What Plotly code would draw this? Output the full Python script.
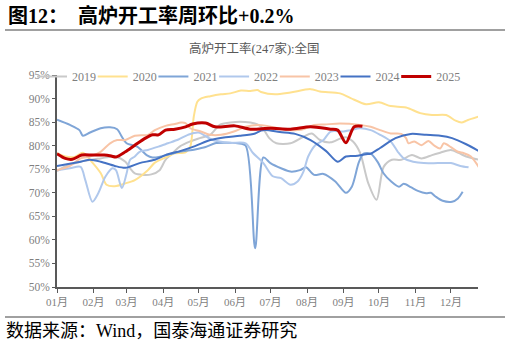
import datetime as dt
import plotly.graph_objects as go

# ---------------- data (day-of-year offset, value %) ----------------
years = ["2019", "2020", "2021", "2022", "2023", "2024", "2025"]

d2019 = [0, 6, 20, 37, 49, 58, 62, 66, 73, 80, 87, 92, 98, 104, 113, 121, 130, 138, 147, 155, 164, 170, 175, 180, 186, 198, 209, 216, 223, 232, 240, 245, 251, 257, 264, 271, 277, 284, 292, 301, 309, 318, 325, 334, 341, 347, 358]
v2019 = [74.6, 75.5, 76.6, 77.3, 77.7, 76.6, 75.2, 74.1, 73.8, 73.9, 74.8, 77.0, 78.4, 79.8, 80.9, 81.6, 82.3, 84.4, 84.9, 85.1, 84.9, 84.5, 83.5, 81.6, 80.5, 80.5, 81.9, 82.6, 81.2, 80.7, 81.5, 81.8, 80.9, 78.5, 72.0, 68.5, 75.5, 77.0, 77.0, 78.0, 77.3, 78.0, 78.5, 79.1, 78.4, 77.7, 77.0]

d2020 = [0, 7, 15, 22, 28, 37, 42, 49, 58, 66, 77, 83, 92, 100, 109, 113, 116, 119, 122, 130, 139, 147, 156, 164, 170, 173, 185, 198, 215, 223, 240, 249, 262, 273, 283, 296, 308, 318, 330, 338, 343, 348, 358]
v2020 = [78.4, 77.7, 77.6, 78.5, 77.0, 74.2, 71.7, 71.4, 72.0, 72.7, 74.8, 76.4, 77.5, 78.4, 78.6, 79.8, 86.2, 89.3, 90.0, 90.5, 90.9, 91.1, 91.7, 91.6, 91.8, 91.4, 90.9, 91.3, 92.0, 91.5, 91.1, 90.1, 88.8, 89.2, 88.4, 88.1, 86.9, 86.5, 86.5, 85.3, 84.9, 85.4, 86.2]

d2021 = [0, 11, 19, 22, 28, 37, 45, 51, 55, 59, 68, 76, 81, 88, 96, 104, 117, 126, 134, 143, 153, 160, 168, 175, 181, 190, 198, 206, 211, 218, 226, 236, 245, 250, 256, 260, 266, 272, 277, 283, 290, 294, 300, 306, 313, 317, 321, 327, 335, 340, 344]
v2021 = [85.5, 84.4, 83.3, 82.1, 82.8, 83.7, 83.9, 83.5, 81.9, 80.5, 79.8, 78.0, 77.5, 77.7, 78.2, 78.7, 79.2, 79.7, 80.5, 80.6, 80.5, 80.0, 58.2, 77.5, 76.3, 75.2, 74.5, 74.8, 75.4, 73.8, 74.0, 72.4, 70.0, 71.3, 76.5, 78.3, 78.3, 76.5, 74.1, 72.5, 71.3, 71.9, 71.2, 70.4, 69.9, 70.0, 69.2, 68.3, 68.1, 68.8, 70.2]

d2022 = [0, 11, 20, 24, 30, 35, 41, 47, 50, 55, 59, 62, 66, 70, 77, 86, 94, 103, 111, 120, 132, 147, 160, 166, 175, 183, 190, 198, 204, 209, 213, 219, 226, 232, 243, 249, 257, 266, 274, 283, 289, 294, 302, 311, 323, 334, 342, 349]
v2022 = [74.8, 75.2, 75.5, 72.7, 68.1, 69.9, 73.4, 75.2, 74.8, 71.0, 74.1, 77.0, 77.7, 78.7, 79.1, 79.8, 80.5, 81.3, 82.3, 82.8, 81.2, 80.6, 80.5, 78.5, 76.3, 73.5, 73.1, 71.7, 72.4, 74.5, 77.7, 80.1, 81.2, 83.0, 83.0, 83.3, 83.7, 83.3, 82.3, 80.9, 78.7, 77.3, 76.6, 76.3, 76.3, 76.3, 75.7, 75.4]

d2023 = [0, 11, 20, 28, 37, 45, 51, 58, 66, 77, 83, 92, 100, 105, 109, 113, 122, 130, 139, 150, 160, 170, 178, 187, 196, 204, 210, 218, 227, 240, 257, 266, 274, 283, 292, 296, 298, 303, 309, 315, 320, 325, 328, 334, 340, 345, 351, 358]
v2023 = [74.8, 75.7, 77.3, 77.7, 78.7, 80.5, 81.2, 81.2, 82.1, 82.3, 83.3, 84.2, 84.6, 84.9, 84.8, 83.7, 83.0, 82.3, 82.3, 83.0, 84.0, 84.4, 84.2, 83.7, 83.3, 83.3, 83.6, 84.4, 84.5, 84.7, 84.4, 84.0, 83.3, 82.6, 82.5, 81.6, 80.5, 80.9, 80.1, 81.0, 80.0, 79.4, 80.5, 79.7, 78.7, 78.4, 77.7, 75.3]

d2024 = [0, 20, 28, 37, 49, 58, 70, 83, 92, 105, 117, 130, 143, 155, 168, 173, 177, 189, 202, 215, 228, 238, 245, 253, 262, 266, 274, 287, 300, 313, 325, 335, 347, 358]
v2024 = [75.7, 76.6, 77.0, 76.6, 75.7, 75.3, 76.3, 77.0, 78.0, 78.9, 79.9, 81.2, 81.8, 82.1, 82.6, 83.2, 83.3, 82.9, 82.5, 81.2, 78.9, 76.6, 77.7, 77.8, 78.2, 78.3, 79.5, 81.6, 82.5, 82.3, 82.1, 81.6, 80.3, 78.8]

d2025 = [0, 7, 13, 21, 30, 40, 46, 50, 58, 66, 75, 81, 86, 92, 100, 109, 115, 126, 134, 151, 164, 181, 198, 215, 232, 238, 245, 252, 259]
v2025 = [78.3, 77.3, 77.1, 78.0, 78.0, 78.0, 77.8, 77.6, 78.7, 80.1, 81.6, 82.3, 82.3, 83.3, 83.5, 84.0, 84.6, 84.8, 84.0, 84.2, 83.5, 83.7, 83.5, 84.0, 83.5, 83.3, 80.6, 84.0, 84.1]

month_labels = ["01月", "02月", "03月", "04月", "05月", "06月", "07月", "08月", "09月", "10月", "11月", "12月"]
y_ticks = [50, 55, 60, 65, 70, 75, 80, 85, 90, 95]

colors = ["#C9C9C9", "#FFE18F", "#7FA5D7", "#B0C8EC", "#F8C4A6", "#4472C4", "#C00000"]
widths = [2, 2, 2, 2, 2, 2, 3]

series_days = [d2019, d2020, d2021, d2022, d2023, d2024, d2025]
series_vals = [v2019, v2020, v2021, v2022, v2023, v2024, v2025]

base = dt.date(2021, 1, 1)
def to_dates(days):
    return [(base + dt.timedelta(days=d)).isoformat() for d in days]

serif = "Liberation Serif, 'Noto Sans CJK SC', serif"
gray = "#7F7F7F"

def px(x):
    return (x - 57) / 421.0
def py(y):
    return (287 - y) / 212.0

fig = go.Figure()
legend_layout = {}
for i, (name, dd, vv, c, w) in enumerate(zip(years, series_days, series_vals, colors, widths)):
    key = "legend" if i == 0 else f"legend{i + 1}"
    fig.add_trace(go.Scatter(
        x=to_dates(dd), y=vv, name=name, mode="lines", legend=key,
        line=dict(color=c, width=w, shape="spline", smoothing=0.8),
    ))
    legend_layout[key] = dict(
        orientation="h", xref="container", x=(32 + 60.7 * i) / 510, xanchor="left",
        yref="paper", y=py(76.5), yanchor="middle",
        bgcolor="rgba(0,0,0,0)", font=dict(family=serif, size=12, color=gray),
        itemwidth=30,
    )

tickvals = [dt.date(2021, m, 1).isoformat() for m in range(1, 13)]

fig.update_layout(
    width=510, height=345,
    margin=dict(l=57, r=32, t=75, b=58, autoexpand=False),
    paper_bgcolor="white", plot_bgcolor="white",
    showlegend=True,
    xaxis=dict(type="date", range=[base.isoformat(), (base + dt.timedelta(days=357.7)).isoformat()],
               tickvals=tickvals, ticktext=month_labels,
               showgrid=False, zeroline=False,
               showline=True, linecolor="#595959", linewidth=1.5,
               ticks="outside", ticklen=4, tickcolor="#595959", tickwidth=1,
               tickfont=dict(family=serif, size=11, color=gray)),
    yaxis=dict(range=[50, 95], tickvals=y_ticks, ticktext=[f"{t}%" for t in y_ticks],
               showgrid=False, zeroline=False,
               showline=True, linecolor="#595959", linewidth=1.5,
               ticks="outside", ticklen=3, tickcolor="#595959", tickwidth=1,
               tickfont=dict(family=serif, size=11.5, color=gray)),
    **legend_layout,
)

fig.add_annotation(text="<b>图12：  高炉开工率周环比+0.2%</b>", xref="paper", yref="paper",
                   x=px(6), y=py(15), xanchor="left", yanchor="middle", showarrow=False,
                   font=dict(family=serif, size=20, color="black"))
fig.add_annotation(text="高炉开工率(247家):全国", xref="paper", yref="paper",
                   x=px(254), y=py(49), xanchor="center", yanchor="middle", showarrow=False,
                   font=dict(family=serif, size=12.5, color="#595959"))
fig.add_annotation(text="数据来源：Wind，国泰海通证券研究", xref="paper", yref="paper",
                   x=px(4), y=py(331), xanchor="left", yanchor="middle", showarrow=False,
                   font=dict(family=serif, size=18, color="black"))

fig.add_shape(type="line", xref="paper", yref="paper", x0=px(5), x1=px(505), y0=py(30), y1=py(30),
              line=dict(color="#808080", width=1.5))
fig.add_shape(type="line", xref="paper", yref="paper", x0=px(5), x1=px(505), y0=py(317), y1=py(317),
              line=dict(color="#808080", width=1.5))

fig.write_html("out.html")
